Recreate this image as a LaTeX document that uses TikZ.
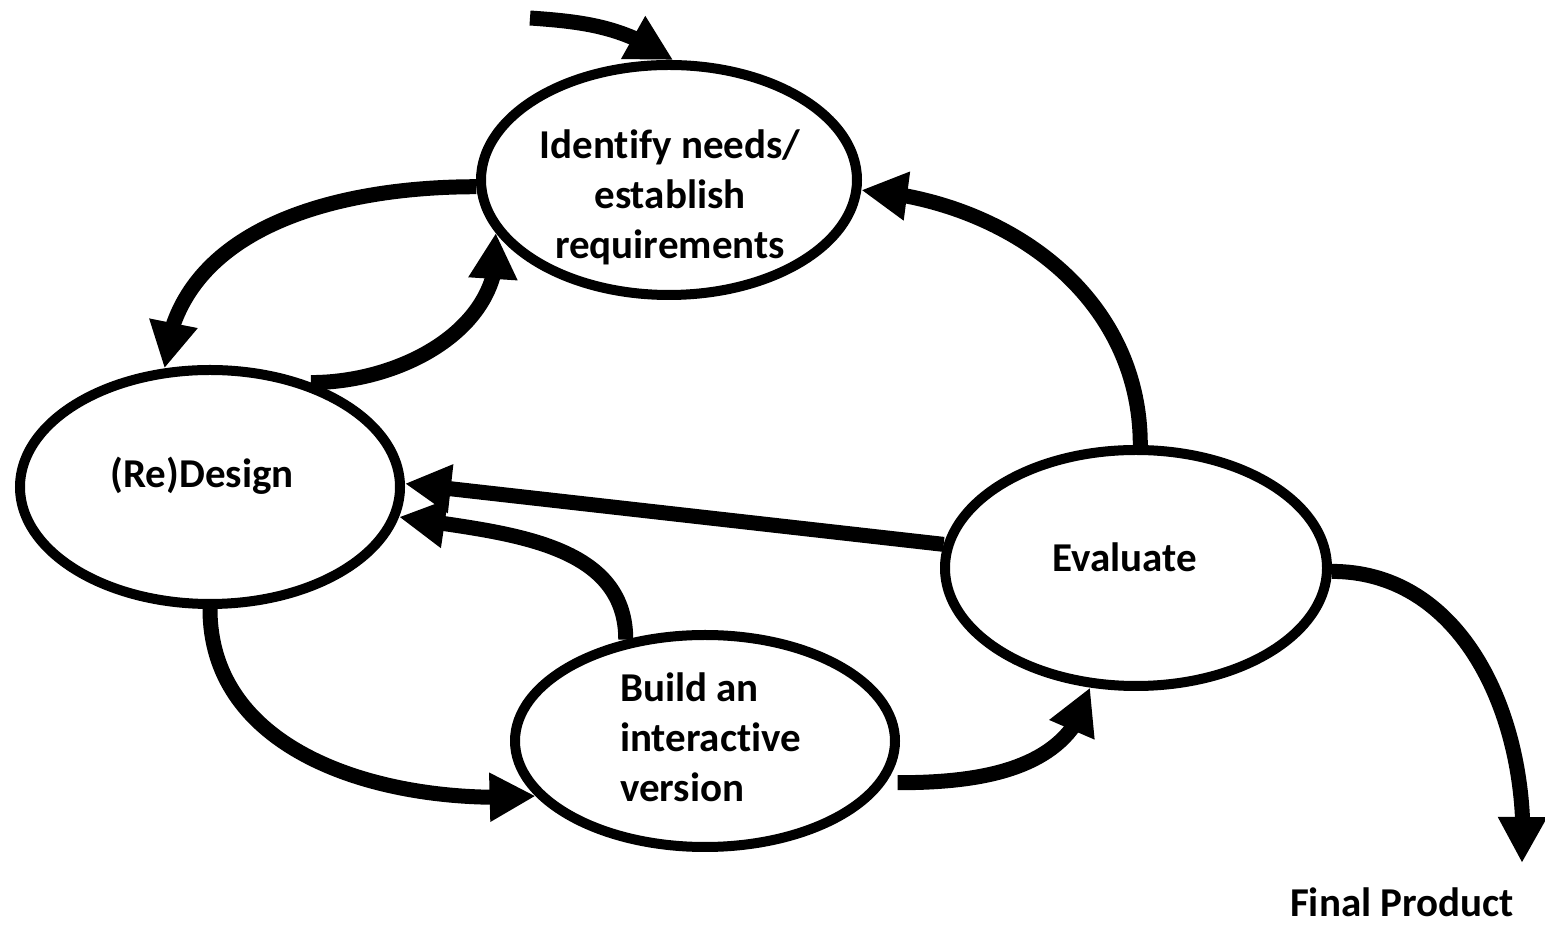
\documentclass[tikz,border=0pt]{standalone}
\usepackage{fontspec}
\setmainfont{Carlito}[Ligatures=NoCommon]
\usetikzlibrary{arrows.meta,shapes.geometric,bending}
\begin{document}
\begin{tikzpicture}[x=1pt,y=1pt,
  stage/.style={draw, ellipse, line width=10pt, inner sep=0pt},
  lbl/.style={font=\fontsize{41}{50}\selectfont\bfseries, inner sep=0pt},
  flow/.style={line width=15pt, -{Triangle[length=46pt,width=46pt,flex]}},
]
\useasboundingbox (0,0) rectangle (1545,926);
\node[stage, minimum width=376pt, minimum height=230pt] (e1) at (669,746) {};
\node[stage, minimum width=380pt, minimum height=234pt] (e2) at (210,439) {};
\node[stage, minimum width=380pt, minimum height=212pt] (e3) at (705,185) {};
\node[stage, minimum width=382pt, minimum height=236pt] (e4) at (1136,358) {};
\node[lbl, align=center] (t1) at (670,729) {Identify needs/\\establish\\requirements};
\node[lbl] (t2) at (202,450) {(Re)Design};
\node[lbl, align=left, anchor=west] (t3) at (620,189) {Build an\\interactive\\version};
\node[lbl] (t4) at (1125,369) {Evaluate};
\node[lbl, anchor=base] (t5) at (1402,9) {Final Product};
\coordinate (s0) at (530,908);
\coordinate (fin) at (1522,63);
\draw[flow] (s0) to[out=-4,in=146] (e1.88);
\draw[flow] (e1.182) to[out=180,in=86] (e2.111);
\draw[flow] (e2.46) to[out=0,in=-82] (e1.197);
\draw[flow] (e4.88) to[out=90,in=-4] (e1.-3);
\draw[flow] (e4.173) -- (e2.1);
\draw[flow] (e3.128) to[out=90,in=-9] (e2.-9);
\draw[flow] (e2.-90) to[out=-90,in=184] (e3.198);
\draw[flow] ([xshift=12pt]e3.-13) to[out=0,in=-102] (e4.249);
\draw[flow] (e4.-1) to[out=0,in=86] (fin);
\end{tikzpicture}
\end{document}
